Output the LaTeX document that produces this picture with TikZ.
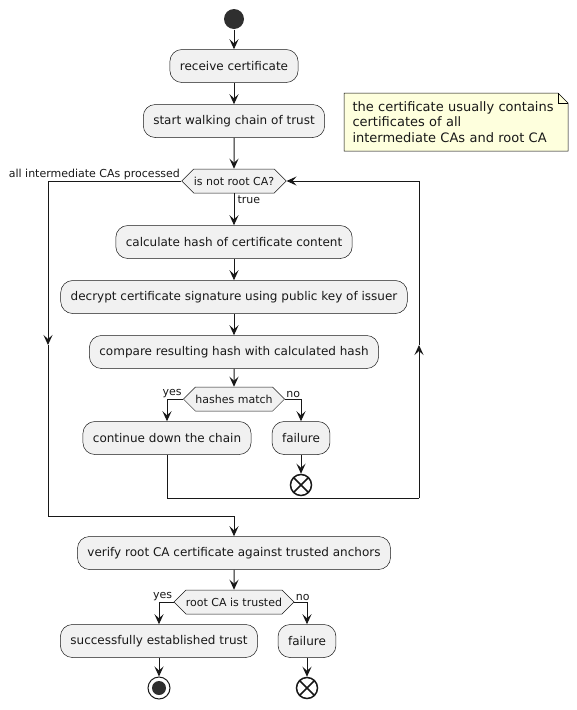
\documentclass[tikz,border=0pt]{standalone}
\usepackage{fontspec}
\setmainfont{DejaVu Sans}
\usetikzlibrary{arrows.meta,shapes.symbols,backgrounds}
\definecolor{umlline}{HTML}{181818}
\definecolor{umlfill}{HTML}{F1F1F1}
\definecolor{notefill}{HTML}{FEFFDD}
\begin{document}
\begin{tikzpicture}[x=1pt,y=-1pt,color=umlline,line width=1pt,
        >={Stealth[length=10pt,width=9pt,inset=4pt]},
        action/.style={draw, line width=0.5pt, fill=umlfill, rounded corners=12pt,
            minimum height=33pt, inner xsep=10pt, font=\fontsize{12}{14}\selectfont},
        decision/.style={draw, line width=0.5pt, fill=umlfill, signal, signal to=west and east,
            signal pointer angle=90, minimum height=24pt, inner xsep=0pt, inner ysep=0pt,
            font=\fontsize{11}{13}\selectfont},
        guard/.style={font=\fontsize{11}{13}\selectfont, inner sep=1pt},
        endx/.style={circle, draw, line width=1.5pt, fill=white, minimum size=21pt, inner sep=0pt,
            path picture={\draw[line width=1.5pt]
                (path picture bounding box.north west) -- (path picture bounding box.south east)
                (path picture bounding box.north east) -- (path picture bounding box.south west);}},
        stopnode/.style={circle, draw, line width=1pt, fill=white, minimum size=22pt, inner sep=0pt,
            path picture={\fill[umlline!90!white] (path picture bounding box.center) circle (7pt);}}]
    \useasboundingbox (0,0) rectangle (577,710);

    \node[circle, fill=umlline!90!white, minimum size=20pt, inner sep=0pt] (start) at (234,19) {};
    \node[action] (receive) at (234,66) {receive certificate};
    \node[action] (walk) at (234,121) {start walking chain of trust};
    \node[decision] (notroot) at (234,181) {is not root CA?};
    \node[action] (hash) at (234,242) {calculate hash of certificate content};
    \node[action] (decrypt) at (234,297) {decrypt certificate signature using public key of issuer};
    \node[action] (compare) at (234,352) {compare resulting hash with calculated hash};
    \node[decision] (match) at (234,399) {hashes match};
    \node[action] (continue) at (167,438) {continue down the chain};
    \node[action] (failA) at (301,438) {failure};
    \node[endx] (endA) at (301,485) {};
    \node[action] (verify) at (234,553) {verify root CA certificate against trusted anchors};
    \node[decision] (trusted) at (234,602) {root CA is trusted};
    \node[action] (success) at (159,641) {successfully established trust};
    \node[action] (failB) at (307,641) {failure};
    \node[stopnode] (stop) at (159,688) {};
    \node[endx] (endB) at (307,688) {};

    \node[anchor=north west, text width=207pt, minimum height=57pt, inner xsep=8pt, inner ysep=4pt,
        align=left, font=\fontsize{13}{15.5}\selectfont] (note) at (344,93)
        {the certificate usually contains\\certificates of all\\intermediate CAs and root CA};
    \begin{scope}[on background layer]
        \draw[line width=0.5pt, fill=notefill] (note.north west) -- ([xshift=-10pt]note.north east)
            -- ([yshift=-10pt]note.north east) -- (note.south east) -- (note.south west) -- cycle;
        \draw[line width=0.5pt] ([xshift=-10pt]note.north east) |- ([yshift=-10pt]note.north east);
    \end{scope}

    \coordinate (leftmid) at (48,345);
    \coordinate (merge) at (234,516);
    \coordinate (backlow) at (419,498);
    \coordinate (backmid) at (419,345);

    \draw[->] (start) -- (receive);
    \draw[->] (receive) -- (walk);
    \draw[->] (walk) -- (notroot);
    \draw[->] (notroot.south) -- node[guard, pos=0, anchor=north west, xshift=2pt, yshift=-1pt] {true} (hash);
    \draw[->] (hash) -- (decrypt);
    \draw[->] (decrypt) -- (compare);
    \draw[->] (compare) -- (match);
    \draw[->] (match.west) -| node[guard, pos=0, anchor=south east] {yes} (continue.north);
    \draw[->] (match.east) -| node[guard, pos=0, anchor=south west] {no} (failA.north);
    \draw[->] (failA) -- (endA);
    \draw (continue.south) |- (backlow);
    \draw[->] (backlow) -- (backmid);
    \draw[->] (backmid) |- (notroot.east);
    \draw[->] (notroot.west) -| node[guard, pos=0, anchor=south east] {all intermediate CAs processed} (leftmid);
    \draw[->] (leftmid) |- (merge) -- (verify);
    \draw[->] (verify) -- (trusted);
    \draw[->] (trusted.west) -| node[guard, pos=0, anchor=south east] {yes} (success.north);
    \draw[->] (trusted.east) -| node[guard, pos=0, anchor=south west] {no} (failB.north);
    \draw[->] (success) -- (stop);
    \draw[->] (failB) -- (endB);
\end{tikzpicture}
\end{document}
